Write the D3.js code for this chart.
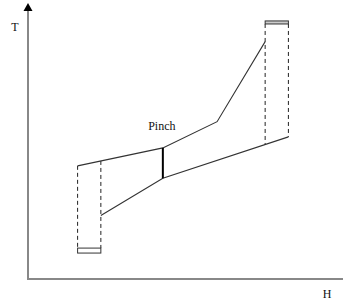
<!DOCTYPE html>
<html>
<head>
<meta charset="utf-8">
<script src="https://cdn.jsdelivr.net/npm/d3@7"></script>
<style>
  body { margin: 0; background: #fff; }
  text { font-family: "Liberation Serif", "DejaVu Serif", serif; fill: #111; }
</style>
</head>
<body>
<div id="chart"></div>
<script>
// composite curves, H (enthalpy) vs T
const hotH = [16, 43.5, 61, 76.5];
const hotT = [41, 47.5, 57, 86];
const coldH = [23.5, 43.5, 84];
const coldT = [23, 36.5, 51.5];
// utilities
const coldUtilH = [16, 23.5];
const coldUtilT = [9.4, 11.2];
const hotUtilH = [76.5, 84];
const hotUtilT = [92.4, 93.5];
const pinchH = 43.5;
const pinchLabel = 'Pinch';
const xLabel = 'H';
const yLabel = 'T';

const width = 343;
const height = 300;

const x = d3.scaleLinear().domain([0, 100]).range([28, 338]);
const y = d3.scaleLinear().domain([0, 100]).range([279, 3]);

const hot = hotH.map((h, i) => ({ h, t: hotT[i] }));
const cold = coldH.map((h, i) => ({ h, t: coldT[i] }));

function tAt(curve, h) {
  for (let i = 1; i < curve.length; i++) {
    if (h <= curve[i].h) {
      const a = curve[i - 1];
      const b = curve[i];
      return a.t + (b.t - a.t) * (h - a.h) / (b.h - a.h);
    }
  }
  return curve[curve.length - 1].t;
}

const svg = d3.select('#chart').append('svg')
    .attr('width', width)
    .attr('height', height);

// axes
svg.append('line')
    .attr('x1', x(0)).attr('x2', width)
    .attr('y1', y(0)).attr('y2', y(0))
    .attr('stroke', '#888').attr('stroke-width', 2);
svg.append('line')
    .attr('x1', x(0)).attr('x2', x(0))
    .attr('y1', y(0) + 1).attr('y2', 9)
    .attr('stroke', '#888').attr('stroke-width', 2);
svg.append('path')
    .attr('d', `M${x(0)},3 L${x(0) - 4.5},11 L${x(0) + 4.5},11 Z`)
    .attr('fill', '#000');

svg.append('text')
    .attr('x', 15).attr('y', 31)
    .attr('text-anchor', 'middle')
    .attr('font-size', 12)
    .text(yLabel);
svg.append('text')
    .attr('x', 327).attr('y', 298)
    .attr('text-anchor', 'middle')
    .attr('font-size', 12)
    .text(xLabel);

const line = d3.line()
    .x(d => x(d.h))
    .y(d => y(d.t));

// dashed utility boxes
const dashed = [
  [{ h: coldUtilH[0], t: hot[0].t }, { h: coldUtilH[0], t: coldUtilT[1] }],
  [{ h: coldUtilH[1], t: tAt(hot, coldUtilH[1]) }, { h: coldUtilH[1], t: coldUtilT[1] }],
  [{ h: hotUtilH[0], t: hotUtilT[0] }, { h: hotUtilH[0], t: tAt(cold, hotUtilH[0]) }],
  [{ h: hotUtilH[1], t: hotUtilT[0] }, { h: hotUtilH[1], t: cold[cold.length - 1].t }]
];
svg.selectAll('.dash')
  .data(dashed)
  .enter().append('path')
    .attr('class', 'dash')
    .attr('d', line)
    .attr('fill', 'none')
    .attr('stroke', '#222')
    .attr('stroke-width', 1)
    .attr('stroke-dasharray', '4,3');

// utility rectangles
svg.append('rect')
    .attr('x', x(coldUtilH[0])).attr('width', x(coldUtilH[1]) - x(coldUtilH[0]))
    .attr('y', y(coldUtilT[1])).attr('height', y(coldUtilT[0]) - y(coldUtilT[1]))
    .attr('fill', '#fff').attr('stroke', '#333').attr('stroke-width', 1);
svg.append('rect')
    .attr('x', x(hotUtilH[0])).attr('width', x(hotUtilH[1]) - x(hotUtilH[0]))
    .attr('y', y(hotUtilT[1])).attr('height', y(hotUtilT[0]) - y(hotUtilT[1]))
    .attr('fill', '#ccc').attr('stroke', '#333').attr('stroke-width', 1);

// composite curves
svg.append('path')
    .datum(hot)
    .attr('d', line)
    .attr('fill', 'none')
    .attr('stroke', '#333')
    .attr('stroke-width', 1.1);
svg.append('path')
    .datum(cold)
    .attr('d', line)
    .attr('fill', 'none')
    .attr('stroke', '#333')
    .attr('stroke-width', 1.1);

// pinch
svg.append('line')
    .attr('x1', x(pinchH)).attr('x2', x(pinchH))
    .attr('y1', y(tAt(hot, pinchH))).attr('y2', y(tAt(cold, pinchH)))
    .attr('stroke', '#000').attr('stroke-width', 2);
svg.append('text')
    .attr('x', x(pinchH) - 1).attr('y', 130)
    .attr('text-anchor', 'middle')
    .attr('font-size', 12)
    .text(pinchLabel);
</script>
</body>
</html>
